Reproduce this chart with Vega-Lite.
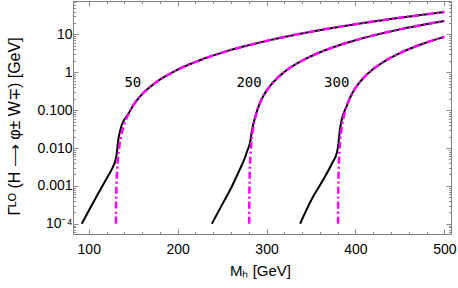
{
  "$schema": "https://vega.github.io/schema/vega-lite/v6.json",
  "width": 378,
  "height": 233,
  "autosize": "none",
  "padding": {"left": 73, "top": 1, "right": 7, "bottom": 54},
  "background": "white",
  "config": {
    "view": {"stroke": "#808080", "strokeWidth": 1},
    "axis": {
      "domain": false,
      "grid": false,
      "tickColor": "#8a8a8a",
      "tickWidth": 1,
      "labelFont": "Liberation Sans",
      "labelFontSize": 14,
      "labelColor": "#000000",
      "titleFont": "Liberation Sans",
      "titleFontSize": 15,
      "titleColor": "#000000",
      "titleFontWeight": "normal",
      "labelOverlap": false,
      "labelFlush": false
    }
  },
  "datasets": {
    "full": [
      {"series": "50", "MH": 92.1, "G": 0.0001},
      {"series": "50", "MH": 100, "G": 0.00022},
      {"series": "50", "MH": 110, "G": 0.00059},
      {"series": "50", "MH": 120, "G": 0.00155},
      {"series": "50", "MH": 127, "G": 0.0031},
      {"series": "50", "MH": 130, "G": 0.0047},
      {"series": "50", "MH": 131.5, "G": 0.0071},
      {"series": "50", "MH": 132.7, "G": 0.013},
      {"series": "50", "MH": 133.8, "G": 0.0195},
      {"series": "50", "MH": 136.4, "G": 0.036},
      {"series": "50", "MH": 140, "G": 0.056},
      {"series": "50", "MH": 145, "G": 0.0827},
      {"series": "50", "MH": 150, "G": 0.133},
      {"series": "50", "MH": 160, "G": 0.262},
      {"series": "50", "MH": 175, "G": 0.527},
      {"series": "50", "MH": 200, "G": 1.17},
      {"series": "50", "MH": 225, "G": 2.08},
      {"series": "50", "MH": 250, "G": 3.29},
      {"series": "50", "MH": 275, "G": 4.83},
      {"series": "50", "MH": 300, "G": 6.74},
      {"series": "50", "MH": 350, "G": 11.76},
      {"series": "50", "MH": 400, "G": 18.6},
      {"series": "50", "MH": 450, "G": 27.5},
      {"series": "50", "MH": 500, "G": 38.8},
      {"series": "200", "MH": 238.5, "G": 0.0001},
      {"series": "200", "MH": 250, "G": 0.00032},
      {"series": "200", "MH": 260, "G": 0.00087},
      {"series": "200", "MH": 270, "G": 0.00275},
      {"series": "200", "MH": 276, "G": 0.0058},
      {"series": "200", "MH": 278.5, "G": 0.0087},
      {"series": "200", "MH": 280.5, "G": 0.0115},
      {"series": "200", "MH": 281.6, "G": 0.0144},
      {"series": "200", "MH": 283.6, "G": 0.029},
      {"series": "200", "MH": 287.3, "G": 0.066},
      {"series": "200", "MH": 290, "G": 0.1063},
      {"series": "200", "MH": 295, "G": 0.2041},
      {"series": "200", "MH": 300, "G": 0.325},
      {"series": "200", "MH": 310, "G": 0.63},
      {"series": "200", "MH": 320, "G": 1.015},
      {"series": "200", "MH": 350, "G": 2.647},
      {"series": "200", "MH": 375, "G": 4.56},
      {"series": "200", "MH": 400, "G": 7.0},
      {"series": "200", "MH": 450, "G": 13.55},
      {"series": "200", "MH": 500, "G": 22.5},
      {"series": "300", "MH": 337.7, "G": 0.0001},
      {"series": "300", "MH": 351.1, "G": 0.00046},
      {"series": "300", "MH": 362.4, "G": 0.00128},
      {"series": "300", "MH": 373.6, "G": 0.0039},
      {"series": "300", "MH": 379.3, "G": 0.0078},
      {"series": "300", "MH": 381.1, "G": 0.0144},
      {"series": "300", "MH": 382.2, "G": 0.0265},
      {"series": "300", "MH": 384.9, "G": 0.06},
      {"series": "300", "MH": 390, "G": 0.1246},
      {"series": "300", "MH": 395, "G": 0.24},
      {"series": "300", "MH": 400, "G": 0.383},
      {"series": "300", "MH": 410, "G": 0.748},
      {"series": "300", "MH": 420, "G": 1.213},
      {"series": "300", "MH": 435, "G": 2.097},
      {"series": "300", "MH": 450, "G": 3.206},
      {"series": "300", "MH": 475, "G": 5.57},
      {"series": "300", "MH": 500, "G": 8.6}
    ],
    "onshell": [
      {"series": "50", "MH": 130.58, "G": 0.0001},
      {"series": "50", "MH": 130.6, "G": 0.00012},
      {"series": "50", "MH": 130.7, "G": 0.00022},
      {"series": "50", "MH": 130.8, "G": 0.00034},
      {"series": "50", "MH": 131, "G": 0.000627},
      {"series": "50", "MH": 131.5, "G": 0.00156},
      {"series": "50", "MH": 132, "G": 0.00275},
      {"series": "50", "MH": 133, "G": 0.00574},
      {"series": "50", "MH": 134, "G": 0.00941},
      {"series": "50", "MH": 135, "G": 0.0137},
      {"series": "50", "MH": 137, "G": 0.02385},
      {"series": "50", "MH": 140, "G": 0.0427},
      {"series": "50", "MH": 145, "G": 0.0827},
      {"series": "50", "MH": 150, "G": 0.133},
      {"series": "50", "MH": 160, "G": 0.262},
      {"series": "50", "MH": 175, "G": 0.527},
      {"series": "50", "MH": 200, "G": 1.17},
      {"series": "50", "MH": 225, "G": 2.08},
      {"series": "50", "MH": 250, "G": 3.29},
      {"series": "50", "MH": 275, "G": 4.83},
      {"series": "50", "MH": 300, "G": 6.74},
      {"series": "50", "MH": 350, "G": 11.76},
      {"series": "50", "MH": 400, "G": 18.6},
      {"series": "50", "MH": 450, "G": 27.5},
      {"series": "50", "MH": 500, "G": 38.8},
      {"series": "200", "MH": 280.49, "G": 0.0001},
      {"series": "200", "MH": 280.5, "G": 0.000108},
      {"series": "200", "MH": 280.6, "G": 0.000305},
      {"series": "200", "MH": 280.8, "G": 0.00086},
      {"series": "200", "MH": 281, "G": 0.001587},
      {"series": "200", "MH": 281.5, "G": 0.00394},
      {"series": "200", "MH": 282, "G": 0.00696},
      {"series": "200", "MH": 283, "G": 0.01448},
      {"series": "200", "MH": 285, "G": 0.0344},
      {"series": "200", "MH": 287, "G": 0.0597},
      {"series": "200", "MH": 290, "G": 0.1063},
      {"series": "200", "MH": 295, "G": 0.2041},
      {"series": "200", "MH": 300, "G": 0.325},
      {"series": "200", "MH": 310, "G": 0.63},
      {"series": "200", "MH": 320, "G": 1.015},
      {"series": "200", "MH": 350, "G": 2.647},
      {"series": "200", "MH": 375, "G": 4.56},
      {"series": "200", "MH": 400, "G": 7.0},
      {"series": "200", "MH": 450, "G": 13.55},
      {"series": "200", "MH": 500, "G": 22.5},
      {"series": "300", "MH": 380.49, "G": 0.0001},
      {"series": "300", "MH": 380.5, "G": 0.000125},
      {"series": "300", "MH": 380.6, "G": 0.000355},
      {"series": "300", "MH": 380.8, "G": 0.001},
      {"series": "300", "MH": 381, "G": 0.001844},
      {"series": "300", "MH": 381.5, "G": 0.00458},
      {"series": "300", "MH": 382, "G": 0.00805},
      {"series": "300", "MH": 383, "G": 0.0167},
      {"series": "300", "MH": 385, "G": 0.0402},
      {"series": "300", "MH": 387, "G": 0.0698},
      {"series": "300", "MH": 390, "G": 0.1246},
      {"series": "300", "MH": 395, "G": 0.24},
      {"series": "300", "MH": 400, "G": 0.383},
      {"series": "300", "MH": 410, "G": 0.748},
      {"series": "300", "MH": 420, "G": 1.213},
      {"series": "300", "MH": 435, "G": 2.097},
      {"series": "300", "MH": 450, "G": 3.206},
      {"series": "300", "MH": 475, "G": 5.57},
      {"series": "300", "MH": 500, "G": 8.6}
    ],
    "labels": [
      {"text": "50", "MH": 149.6, "G": 0.52},
      {"text": "200", "MH": 280.3, "G": 0.52},
      {"text": "300", "MH": 378.9, "G": 0.52}
    ]
  },
  "layer": [
    {
      "data": {"name": "full"},
      "mark": {"type": "line", "color": "#000000", "strokeWidth": 2, "interpolate": "monotone"},
      "encoding": {
        "x": {
          "field": "MH", "type": "quantitative",
          "scale": {"domain": [82.3, 507.5], "nice": false, "zero": false},
          "axis": {
            "orient": "bottom",
            "title": "Mₕ  [GeV]",
            "values": [100, 120, 140, 160, 180, 200, 220, 240, 260, 280, 300, 320, 340, 360, 380, 400, 420, 440, 460, 480, 500],
            "labelExpr": "datum.value % 100 === 0 ? datum.label : ''",
            "tickSize": {"condition": {"test": "datum.value % 100 === 0", "value": -5}, "value": -2.5},
            "labelPadding": 13,
            "titleY": 36,
            "titleX": 187,
            "titleBaseline": "middle"
          }
        },
        "y": {
          "field": "G", "type": "quantitative",
          "scale": {"type": "log", "domain": [0.0000537, 76], "nice": false},
          "axis": {
            "orient": "left",
            "title": "Γᴸᴼ (H ⟶ φ± W∓)  [GeV]",
            "titleFontSize": 16,
            "values": [0.00006, 0.00007, 0.00008, 0.00009, 0.0001, 0.0002, 0.0003, 0.0004, 0.0005, 0.0006, 0.0007, 0.0008, 0.0009, 0.001, 0.002, 0.003, 0.004, 0.005, 0.006, 0.007, 0.008, 0.009, 0.01, 0.02, 0.03, 0.04, 0.05, 0.06, 0.07, 0.08, 0.09, 0.1, 0.2, 0.3, 0.4, 0.5, 0.6, 0.7, 0.8, 0.9, 1, 2, 3, 4, 5, 6, 7, 8, 9, 10, 20, 30, 40, 50, 60, 70],
            "labelExpr": "abs(log(datum.value)/LN10 + 4) < 0.01 ? '10⁻⁴' : abs(log(datum.value)/LN10 + 3) < 0.01 ? '0.001' : abs(log(datum.value)/LN10 + 2) < 0.01 ? '0.010' : abs(log(datum.value)/LN10 + 1) < 0.01 ? '0.100' : abs(log(datum.value)/LN10) < 0.01 ? '1' : abs(log(datum.value)/LN10 - 1) < 0.01 ? '10' : ''",
            "tickSize": {"condition": {"test": "abs(log(datum.value)/LN10 - round(log(datum.value)/LN10)) < 0.01", "value": -5}, "value": -2.5},
            "labelPadding": 6,
            "titleX": -59,
            "titleY": 125,
            "titleBaseline": "middle"
          }
        },
        "detail": {"field": "series"}
      }
    },
    {
      "data": {"name": "onshell"},
      "mark": {"type": "line", "color": "#ff00ff", "strokeWidth": 2.5, "strokeDash": [7, 3, 2, 3], "interpolate": "monotone"},
      "encoding": {
        "x": {
          "field": "MH", "type": "quantitative",
          "axis": {
            "orient": "top",
            "title": null,
            "labels": false,
            "values": [100, 120, 140, 160, 180, 200, 220, 240, 260, 280, 300, 320, 340, 360, 380, 400, 420, 440, 460, 480, 500],
            "tickSize": {"condition": {"test": "datum.value % 100 === 0", "value": -5}, "value": -2.5}
          }
        },
        "y": {
          "field": "G", "type": "quantitative",
          "axis": {
            "orient": "right",
            "title": null,
            "labels": false,
            "values": [0.00006, 0.00007, 0.00008, 0.00009, 0.0001, 0.0002, 0.0003, 0.0004, 0.0005, 0.0006, 0.0007, 0.0008, 0.0009, 0.001, 0.002, 0.003, 0.004, 0.005, 0.006, 0.007, 0.008, 0.009, 0.01, 0.02, 0.03, 0.04, 0.05, 0.06, 0.07, 0.08, 0.09, 0.1, 0.2, 0.3, 0.4, 0.5, 0.6, 0.7, 0.8, 0.9, 1, 2, 3, 4, 5, 6, 7, 8, 9, 10, 20, 30, 40, 50, 60, 70],
            "tickSize": {"condition": {"test": "abs(log(datum.value)/LN10 - round(log(datum.value)/LN10)) < 0.01", "value": -5}, "value": -2.5}
          }
        },
        "detail": {"field": "series"}
      }
    },
    {
      "data": {"name": "labels"},
      "mark": {"type": "text", "font": "DejaVu Sans Mono", "fontSize": 14, "color": "#000000", "align": "center", "baseline": "middle"},
      "encoding": {
        "x": {"field": "MH", "type": "quantitative", "axis": null},
        "y": {"field": "G", "type": "quantitative", "axis": null},
        "text": {"field": "text"}
      }
    }
  ],
  "resolve": {"axis": {"x": "independent", "y": "independent"}}
}
